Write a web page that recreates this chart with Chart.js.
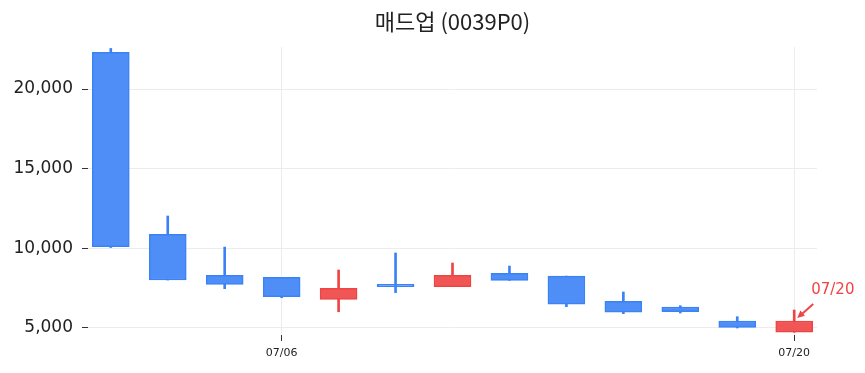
<!DOCTYPE html>
<html>
<head>
<meta charset="utf-8">
<script src="https://cdn.jsdelivr.net/npm/chart.js@4.4.1/dist/chart.umd.min.js"></script>
<style>
  html, body { margin: 0; padding: 0; background: #fff; }
  #wrap { width: 865px; height: 373px; }
</style>
</head>
<body>
<div id="wrap"><canvas id="candleChart"></canvas></div>
<script>
const title = '매드업 (0039P0)';
const dates = ['07/01', '07/02', '07/03', '07/06', '07/07', '07/08', '07/09', '07/10', '07/13', '07/14', '07/15', '07/16', '07/20'];
const openPrices = [22300, 10880, 8300, 8180, 6800, 7740, 7600, 8430, 8260, 6680, 6320, 5440, 4730];
const highPrices = [22550, 12030, 10080, 8180, 8640, 9710, 9080, 8890, 8260, 7260, 6400, 5710, 6130];
const lowPrices = [10050, 8010, 7470, 6900, 6020, 7220, 7600, 7990, 6340, 5900, 5940, 5000, 4730];
const closePrices = [10100, 8010, 7740, 6960, 7490, 7590, 8310, 7990, 6490, 5990, 6020, 5040, 5440];
const shownTicks = [3, 12];

const UP = 'rgb(239,68,68)', UP_FILL = 'rgb(241,86,86)';
const DOWN = 'rgb(59,130,246)', DOWN_FILL = 'rgb(79,142,247)';

let isUp = openPrices.map((o, i) => closePrices[i] >= o);
let lineColors = isUp.map(u => u ? UP : DOWN);
let fillColors = isUp.map(u => u ? UP_FILL : DOWN_FILL);

let bodies = dates.map((d, i) => ({ x: i, y: [openPrices[i], closePrices[i]] }));
let wicks = dates.map((d, i) => ({ x: i, y: [lowPrices[i], highPrices[i]] }));

// title over the plot area + arrow note on the last candle
const extras = {
    id: 'extras',
    afterDraw(chart) {
        const c = chart.ctx, area = chart.chartArea;
        c.save();
        c.fillStyle = '#222';
        c.font = '22px "Noto Sans CJK KR", "Noto Sans", sans-serif';
        c.textAlign = 'center';
        c.textBaseline = 'middle';
        c.fillText(title, (area.left + area.right) / 2, 22);

        const last = dates.length - 1;
        const px = chart.scales.x.getPixelForValue(last);
        const py = chart.scales.y.getPixelForValue(Math.max(openPrices[last], closePrices[last]));
        const tipX = px + 3, tipY = py - 3, tailX = px + 19, tailY = py - 17;
        c.strokeStyle = UP;
        c.fillStyle = UP;
        c.lineWidth = 2;
        c.beginPath();
        c.moveTo(tailX, tailY);
        c.lineTo(tipX + 3, tipY - 2.6);
        c.stroke();
        const ang = Math.atan2(tipY - tailY, tipX - tailX);
        c.beginPath();
        c.moveTo(tipX, tipY);
        c.lineTo(tipX - 8 * Math.cos(ang - 0.45), tipY - 8 * Math.sin(ang - 0.45));
        c.lineTo(tipX - 8 * Math.cos(ang + 0.45), tipY - 8 * Math.sin(ang + 0.45));
        c.closePath();
        c.fill();
        c.font = '15px "DejaVu Sans", sans-serif';
        c.textAlign = 'left';
        c.textBaseline = 'bottom';
        c.fillText(dates[last], px + 17, py - 23);
        c.restore();
    }
};

new Chart(document.getElementById('candleChart'), {
    type: 'bar',
    data: {
        datasets: [
            {
                data: wicks,
                backgroundColor: lineColors,
                borderWidth: 0,
                barThickness: 2,
                grouped: false,
                order: 2
            },
            {
                data: bodies,
                backgroundColor: fillColors,
                borderColor: lineColors,
                borderWidth: 1.5,
                borderSkipped: false,
                barThickness: 37,
                grouped: false,
                order: 1
            }
        ]
    },
    options: {
        responsive: true,
        maintainAspectRatio: false,
        animation: false,
        layout: { padding: { top: 47, left: 12, right: 48, bottom: 0 } },
        plugins: {
            legend: { display: false },
            tooltip: { enabled: false }
        },
        scales: {
            x: {
                type: 'linear',
                offset: false,
                min: -0.4,
                max: 12.4,
                afterBuildTicks: s => { s.ticks = shownTicks.map(v => ({ value: v })); },
                afterFit: s => { s.height = 38; },
                border: { display: false },
                grid: { offset: false, color: '#ececec', tickColor: '#333', tickLength: 6 },
                ticks: {
                    autoSkip: false,
                    maxRotation: 0,
                    padding: 6,
                    color: '#222',
                    font: { family: 'DejaVu Sans', size: 11 },
                    callback: v => dates[v]
                }
            },
            y: {
                min: 4560,
                max: 22640,
                afterBuildTicks: s => { s.ticks = [5000, 10000, 15000, 20000].map(v => ({ value: v })); },
                afterFit: s => { s.width = 76; },
                border: { display: false },
                grid: { color: '#ececec', tickColor: '#333', tickLength: 6 },
                ticks: {
                    padding: 9,
                    color: '#222',
                    font: { family: 'DejaVu Sans', size: 17 },
                    callback: v => v.toLocaleString('en-US')
                }
            }
        }
    },
    plugins: [extras]
});
</script>
</body>
</html>
